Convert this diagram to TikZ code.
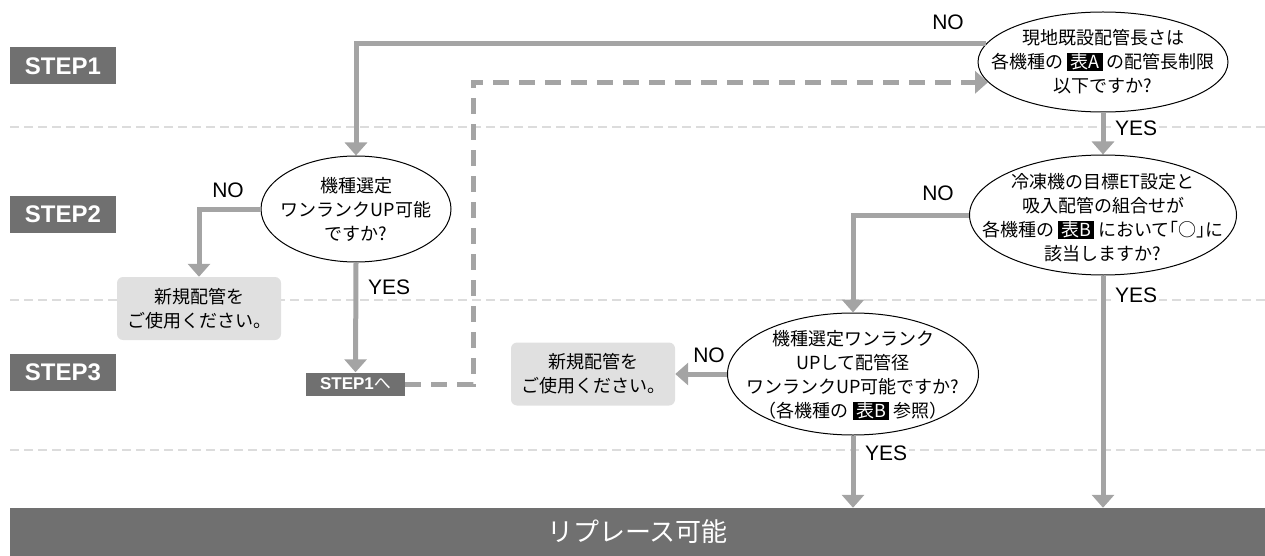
\documentclass[tikz,border=0pt]{standalone}
\usepackage{fontspec}
\setmainfont{Noto Sans CJK JP}
\newfontfamily\lat{Liberation Sans}
\usetikzlibrary{arrows.meta,shapes.geometric}
\definecolor{arr}{HTML}{A4A4A4}
\definecolor{dk}{HTML}{707070}
\definecolor{lbox}{HTML}{E0E0E0}
\definecolor{sepc}{HTML}{DCDCDC}
\newcommand\hlb[1]{{\setlength{\fboxsep}{0.8pt}\colorbox{black}{\kern2.5pt\textcolor{white}{#1}\kern2.5pt}}}
\begin{document}
\begin{tikzpicture}[x=1pt,y=-1pt,
  flow/.style={draw=arr, line width=5pt, -{Triangle[width=22pt,length=13pt]}},
  dflow/.style={flow, dash pattern=on 16pt off 10pt},
  sepline/.style={draw=sepc, line width=2pt, dash pattern=on 9pt off 5pt},
  stepbox/.style={fill=dk, text=white, font=\lat\bfseries\fontsize{24pt}{24pt}\selectfont, minimum width=106pt, minimum height=37pt, inner sep=0pt},
  qell/.style={ellipse, draw=black, line width=1pt, fill=white, inner sep=0pt},
  qtext/.style={align=center, font=\fontsize{18pt}{24pt}\selectfont, inner sep=0pt},
  endbox/.style={fill=lbox, rounded corners=6pt, minimum width=164pt, minimum height=63pt, inner sep=0pt, align=center, font=\fontsize{18pt}{24pt}\selectfont},
  lbl/.style={font=\lat\fontsize{21pt}{21pt}\selectfont, fill=white, inner sep=2pt}
]
\useasboundingbox (0,0) rectangle (1265,556);
% separators
\draw[sepline] (10,127) -- (1265,127);
\draw[sepline] (10,300) -- (1265,300);
\draw[sepline] (10,450) -- (1265,450);
% step labels
\node[stepbox] (st1) at (63,66) {STEP1};
\node[stepbox] (st2) at (63,214) {STEP2};
\node[stepbox] (st3) at (63,372) {STEP3};
% questions
\node[qell, minimum width=250pt, minimum height=100pt] (E1) at (1103,62) {};
\node[qtext] (T1) at (1103,62) {現地既設配管長さは\\各機種の \hlb{表A} の配管長制限\\以下ですか?};
\node[qell, minimum width=267pt, minimum height=120pt] (E2) at (1103,215) {};
\node[qtext] (T2) at (1103,218) {冷凍機の目標ET設定と\\吸入配管の組合せが\\各機種の \hlb{表B} において\kern-0.5em「○」\kern-0.5em に\\該当しますか?};
\node[qell, minimum width=251pt, minimum height=122pt] (E3) at (853,374) {};
\node[qtext] (T3) at (853,375) {機種選定ワンランク\\UPして配管径\\ワンランクUP可能ですか?\\\kern-0.3em（各機種の \hlb{表B} 参照）\kern-0.3em};
\node[qell, minimum width=190pt, minimum height=106pt] (E4) at (356,209) {};
\node[qtext] (T4) at (356,209) {機種選定\\ワンランクUP可能\\ですか?};
% result boxes
\node[endbox] (B1) at (199,308.5) {新規配管を\\ご使用ください。};
\node[endbox] (B2) at (593,374) {新規配管を\\ご使用ください。};
\node[fill=dk, text=white, minimum width=99pt, minimum height=23pt, inner sep=0pt, font=\fontsize{17pt}{17pt}\selectfont] (S1) at (355.5,384) {{\lat\bfseries STEP1}へ};
\node[fill=dk, text=white, minimum width=1255pt, minimum height=48pt, inner sep=0pt, font=\fontsize{26pt}{26pt}\selectfont] (bar) at (637.5,532) {リプレース可能};
\coordinate (dcx) at (473,0);
% connectors
\draw[flow] (E1.171) -| (E4.north);
\draw[dflow] (S1.east) -- (S1.east -| dcx) |- (E1.190);
\draw[flow] (E1.south) -- (E2.north);
\draw[flow] (E2.west) -| (E3.north);
\draw[flow] (E2.south) -- (E2.south |- bar.north);
\draw[flow] (E3.south) -- (E3.south |- bar.north);
\draw[flow] (E3.west) -- (B2.east);
\draw[flow] (E4.west) -| (B1.north);
\draw[flow] (E4.south) -- (S1.north);
% labels
\node[lbl] (noA) at (948,22) {NO};
\node[lbl, anchor=west] (yesA) at (1113,128) {YES};
\node[lbl] (noB) at (938,193) {NO};
\node[lbl, anchor=west] (yesB) at (1113,295) {YES};
\node[lbl] (noC) at (228,190) {NO};
\node[lbl, anchor=west] (yesC) at (366,287) {YES};
\node[lbl] (noD) at (709,355) {NO};
\node[lbl, anchor=west] (yesD) at (863,453) {YES};
\end{tikzpicture}
\end{document}
